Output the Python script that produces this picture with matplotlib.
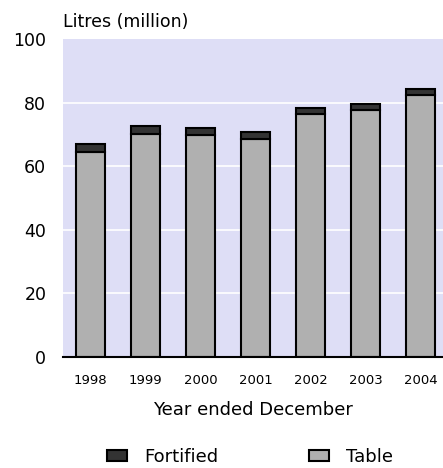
import matplotlib
matplotlib.use("Agg")
import matplotlib.pyplot as plt
import numpy as np

years = ["1998", "1999", "2000", "2001", "2002", "2003", "2004"]
table = [64.4, 70.0, 69.9, 68.7, 76.3, 77.6, 82.5]
total = [67.0, 72.6, 72.1, 70.8, 78.4, 79.7, 84.2]
fortified = [t - b for t, b in zip(total, table)]
yticks = [0, 20, 40, 60, 80, 100]

plt.rcParams['font.family'] = ['DejaVu Sans']
fig = plt.figure(figsize=(4.43, 4.68), dpi=100)
ax = fig.add_axes([63/443, 1 - 357/468, 1 - 63/443, (357 - 39)/468])
ax.set_facecolor('#dedef6')

x = np.arange(len(years))
w = 0.53
b1 = ax.bar(x, table, width=w, color='#b0b0b0', edgecolor='black', linewidth=1.5, label='Table', zorder=3)
b2 = ax.bar(x, fortified, bottom=table, width=w, color='#333333', edgecolor='black', linewidth=1.5, label='Fortified', zorder=3)

ax.set_ylim(0, 100)
ax.set_xlim(-0.5, 6.41)
ax.set_yticks(yticks)
ax.set_yticklabels([str(v) for v in yticks], fontsize=12.5)
ax.set_xticks(x)
ax.set_xticklabels(years, fontsize=9.5)
ax.tick_params(axis='both', length=0)
ax.tick_params(axis='y', pad=12)
ax.tick_params(axis='x', pad=12)
for v in yticks[1:-1]:
    ax.axhline(v, color='white', linewidth=1.2, zorder=1)
for s in ['top', 'right', 'left']:
    ax.spines[s].set_visible(False)
ax.spines['bottom'].set_linewidth(1.5)
ax.spines['bottom'].set_zorder(4)

ax.set_xlabel('Year ended December', fontsize=13, labelpad=10)
fig.text(63/443, 1 - 22/468, 'Litres (million)', fontsize=12.5, va='center', ha='left')

fig.legend(handles=[b2, b1], labels=['Fortified', 'Table'], loc='center', ncol=2,
           bbox_to_anchor=(250/443, 1 - 457/468), frameon=False, fontsize=13,
           handlelength=1.1, handleheight=0.55, handletextpad=0.95, columnspacing=5.0)

fig.savefig('out.png', dpi=100)
